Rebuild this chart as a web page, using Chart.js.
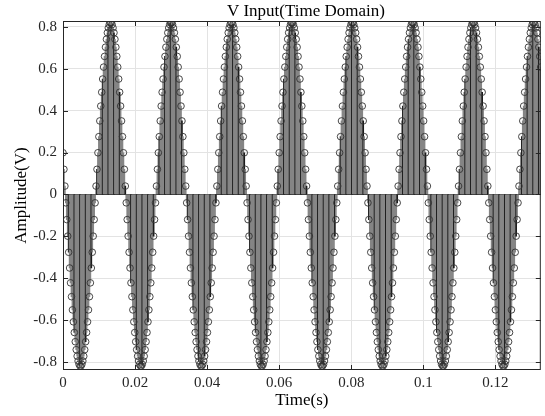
<!DOCTYPE html>
<html>
<head>
<meta charset="utf-8">
<script src="https://cdn.jsdelivr.net/npm/chart.js@4.4.1/dist/chart.umd.min.js"></script>
<style>
  body { margin: 0; background: #fff; }
  #wrap { width: 545px; height: 416px; }
</style>
</head>
<body>
<div id="wrap"><canvas id="canvas" width="545" height="416"></canvas></div>
<script>
var oneCycle = [
  0.199, 0.120, 0.040, -0.040, -0.120, -0.199, -0.276, -0.351,
  -0.422, -0.488, -0.551, -0.608, -0.659, -0.703, -0.741, -0.772,
  -0.795, -0.811, -0.819, -0.819, -0.811, -0.795, -0.772, -0.741,
  -0.703, -0.659, -0.608, -0.551, -0.488, -0.422, -0.351, -0.276,
  -0.199, -0.120, -0.040, 0.040, 0.120, 0.199, 0.276, 0.351,
  0.422, 0.488, 0.551, 0.608, 0.659, 0.703, 0.741, 0.772,
  0.795, 0.811, 0.819, 0.819, 0.811, 0.795, 0.772, 0.741,
  0.703, 0.659, 0.608, 0.551, 0.488, 0.422, 0.351, 0.276
];
var sampleStep = 0.000262;   // seconds between samples
var sampleCount = 507;       // samples inside the visible time window

var xTicks = [0, 0.02, 0.04, 0.06, 0.08, 0.1, 0.12];
var xTickLabels = ['0', '0.02', '0.04', '0.06', '0.08', '0.1', '0.12'];
var yTicks = [-0.8, -0.6, -0.4, -0.2, 0, 0.2, 0.4, 0.6, 0.8];
var yTickLabels = ['-0.8', '-0.6', '-0.4', '-0.2', '0', '0.2', '0.4', '0.6', '0.8'];

var xMin = 0, xMax = 0.1326;
var yMin = -0.838, yMax = 0.828;

var titleText = 'V Input(Time Domain)';
var serif = '"Liberation Serif", "Times New Roman", serif';

var points = [];
for (let k = 0; k < sampleCount; k++) {
    points.push({ x: k * sampleStep, y: oneCycle[k % oneCycle.length] });
}

const framePlugin = {
    id: 'frame',
    afterDraw(chart) {
        const ctx = chart.ctx;
        const a = chart.chartArea;
        const xs = chart.scales.x;
        const ys = chart.scales.y;
        ctx.save();
        ctx.strokeStyle = '#262626';
        ctx.lineWidth = 1;
        ctx.strokeRect(a.left + 0.5, a.top + 0.5, a.right - a.left - 1, a.bottom - a.top - 1);
        ctx.beginPath();
        xTicks.forEach(v => {
            const px = Math.round(xs.getPixelForValue(v)) + 0.5;
            ctx.moveTo(px, a.bottom); ctx.lineTo(px, a.bottom - 5);
            ctx.moveTo(px, a.top); ctx.lineTo(px, a.top + 5);
        });
        yTicks.forEach(v => {
            const py = Math.round(ys.getPixelForValue(v)) + 0.5;
            ctx.moveTo(a.left, py); ctx.lineTo(a.left + 5, py);
            ctx.moveTo(a.right, py); ctx.lineTo(a.right - 5, py);
        });
        ctx.stroke();
        ctx.fillStyle = '#000';
        ctx.font = '17px ' + serif;
        ctx.textAlign = 'center';
        ctx.textBaseline = 'alphabetic';
        ctx.fillText(titleText, (a.left + a.right) / 2 + 4, 16);
        ctx.restore();
    }
};

var ctx = document.getElementById('canvas').getContext('2d');
var myChart = new Chart(ctx, {
    type: 'scatter',
    data: {
        datasets: [
            {
                type: 'scatter',
                data: points,
                showLine: false,
                pointRadius: 3.3,
                pointHoverRadius: 3.3,
                pointBorderColor: '#333',
                pointBorderWidth: 0.9,
                pointBackgroundColor: 'rgba(0,0,0,0)',
                order: 0
            },
            {
                type: 'bar',
                data: points,
                barThickness: 1,
                backgroundColor: c => (c.dataIndex % 6 === 0 ? '#1a1a1a' : '#858585'),
                borderWidth: 0,
                order: 1
            }
        ]
    },
    plugins: [framePlugin],
    options: {
        responsive: false,
        animation: false,
        layout: { padding: { top: 21, right: 2, left: 0, bottom: 0 } },
        scales: {
            x: {
                type: 'linear',
                min: xMin,
                max: xMax,
                offset: false,
                afterFit: s => { s.height = 46; },
                afterBuildTicks: s => { s.ticks = xTicks.map(v => ({ value: v })); },
                grid: { color: '#e3e3e3', drawTicks: false, offset: false },
                border: { display: false },
                ticks: {
                    padding: 4,
                    color: '#262626',
                    font: { family: serif, size: 15 },
                    callback: (v, i) => xTickLabels[i]
                },
                title: {
                    display: true,
                    text: 'Time(s)',
                    color: '#000',
                    font: { family: serif, size: 17 },
                    padding: { top: 0, bottom: 5 }
                }
            },
            y: {
                type: 'linear',
                min: yMin,
                max: yMax,
                afterFit: s => { s.width = 63; },
                afterBuildTicks: s => { s.ticks = yTicks.map(v => ({ value: v })); },
                grid: {
                    color: c => (c.tick && c.tick.value === 0 ? '#1a1a1a' : '#e3e3e3'),
                    drawTicks: false
                },
                border: { display: false },
                ticks: {
                    padding: 6,
                    color: '#262626',
                    font: { family: serif, size: 15 },
                    callback: (v, i) => yTickLabels[i]
                },
                title: {
                    display: true,
                    text: 'Amplitude(V)',
                    color: '#000',
                    font: { family: serif, size: 17 },
                    padding: { top: 11.5, bottom: 0 }
                }
            }
        },
        plugins: {
            legend: { display: false },
            tooltip: { enabled: false },
            title: { display: false }
        }
    }
});
</script>
</body>
</html>
